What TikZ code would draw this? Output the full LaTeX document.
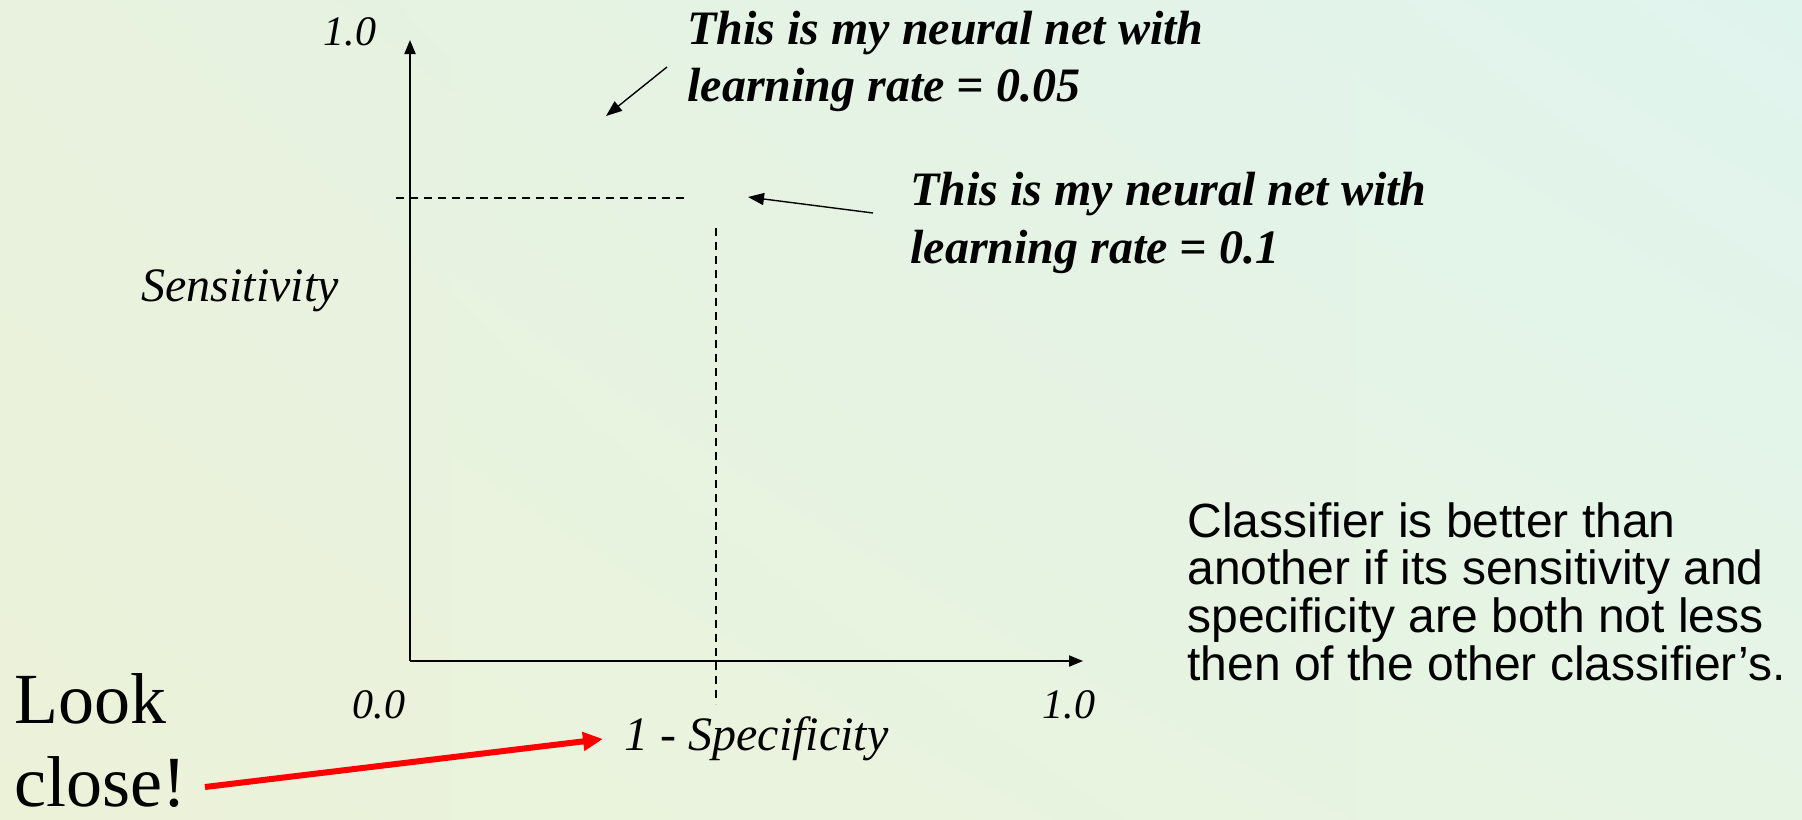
\documentclass[tikz,border=0pt]{standalone}
\usepackage{fontspec}
\setmainfont{Liberation Serif}
\newfontfamily\arialf{Liberation Sans}
\usetikzlibrary{arrows.meta,shadings}
\definecolor{bgUL}{HTML}{E8F2DE}
\definecolor{bgUR}{HTML}{E0F4EE}
\definecolor{bgLL}{HTML}{ECF2D8}
\definecolor{bgLR}{HTML}{E6F4E4}
\definecolor{redarrow}{HTML}{FF0000}
\tikzset{
  lab/.style={inner sep=0pt, anchor=base west, font=\fontsize{24pt}{28pt}\selectfont\itshape},
  num/.style={inner sep=0pt, anchor=base, font=\fontsize{21pt}{25pt}\selectfont\itshape},
  ann/.style={inner sep=0pt, anchor=base west, font=\fontsize{24pt}{28pt}\selectfont\bfseries\itshape},
  note/.style={inner sep=0pt, anchor=base west, font=\fontsize{24pt}{28pt}\arialf\selectfont},
  big/.style={inner sep=0pt, anchor=base west, text depth=0pt, font=\fontsize{36pt}{44pt}\selectfont},
  axis/.style={line width=1pt, -{Triangle[length=7pt,width=5.5pt]}},
  guide/.style={line width=0.7pt, dash pattern=on 4pt off 3pt},
  pointer/.style={line width=0.7pt, -{Triangle[length=8pt,width=6pt]}},
  redptr/.style={line width=3pt, draw=redarrow, -{Triangle[length=10pt,width=9pt]}}
}
\begin{document}
\begin{tikzpicture}[x=0.5pt,y=-0.5pt]
\shade[upper left=bgUL, upper right=bgUR, lower left=bgLL, lower right=bgLR] (0,0) rectangle (1802,819);
\useasboundingbox (0,0) rectangle (1802,819);
% axes
\coordinate (O) at (410,661);
\coordinate (ytop) at (410,40);
\coordinate (xend) at (1083,661);
\draw[axis] (O) -- (ytop);
\draw[axis] (O) -- (xend);
% dashed guides
\coordinate (hA) at (396,198);
\coordinate (hB) at (686,198);
\coordinate (vA) at (716,228);
\coordinate (vB) at (716,704);
\draw[guide] (hA) -- (hB);
\draw[guide] (vA) -- (vB);
% axis labels
\node[num] (ytopl) at (350,45) {1.0};
\node[num] (x0) at (379,718) {0.0};
\node[num] (x1) at (1069,718) {1.0};
\node[lab] (sens) at (141,301) {Sensitivity};
\node[lab] (spec) at (624,750) {1 - Specificity};
% annotations
\node[ann] (a1a) at (687,44) {This is my neural net with};
\node[ann] (a1b) at (687,101) {learning rate = 0.05};
\node[ann] (a2a) at (910,205) {This is my neural net with};
\node[ann] (a2b) at (910,263) {learning rate = 0.1};
\coordinate (p1s) at (667,67);
\coordinate (p1e) at (606,116);
\coordinate (p2s) at (873,213);
\coordinate (p2e) at (748,197);
\draw[pointer] (p1s) -- (p1e);
\draw[pointer] (p2s) -- (p2e);
% note
\node[note] (n1) at (1187,537) {Classifier is better than};
\node[note] (n2) at (1187,584) {another if its sensitivity and};
\node[note] (n3) at (1187,632) {specificity are both not less};
\node[note] (n4) at (1187,680) {then of the other classifier’s.};
% look close
\node[big] (look) at (14,723) {Look};
\node[big] (close) at (14,806) {close!};
\coordinate (rs) at (205,787);
\coordinate (re) at (603,739);
\draw[redptr] (rs) -- (re);
\end{tikzpicture}
\end{document}
